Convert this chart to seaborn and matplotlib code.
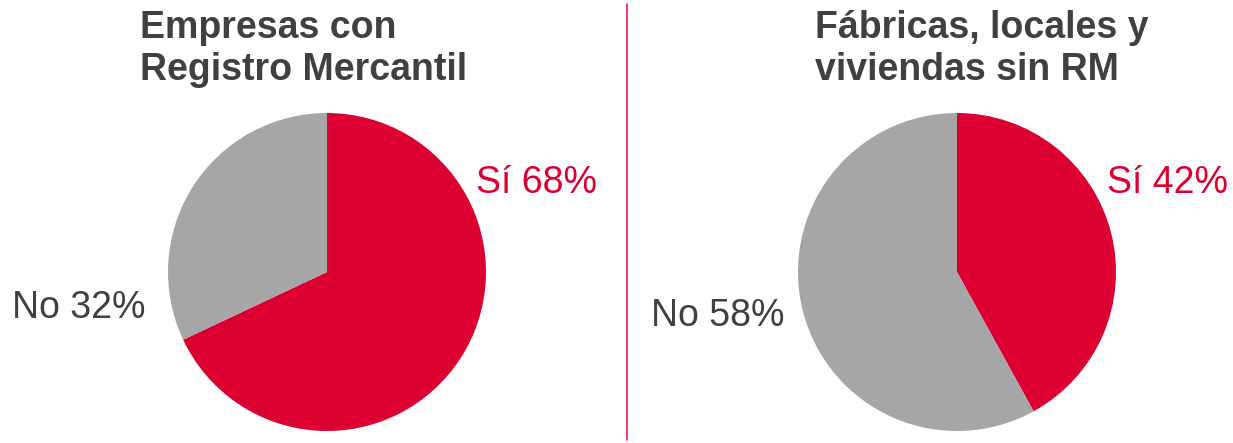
import matplotlib
matplotlib.use("Agg")
import matplotlib.pyplot as plt
import seaborn as sns
from matplotlib.lines import Line2D

sns.set_theme(style="white")
plt.rcParams["font.family"] = ["Liberation Sans", "DejaVu Sans"]

# Data
titles = ["Empresas con\nRegistro Mercantil", "Fábricas, locales y\nviviendas sin RM"]
categories = ["Sí", "No"]
share_si = [68, 42]
share_no = [32, 58]

RED = "#DC0032"
GREY = "#A6A6A6"
DARK = "#404040"

W, H = 1233, 443
fig = plt.figure(figsize=(W / 100, H / 100), dpi=100)
fig.patch.set_facecolor("white")


def px_axes(cx, cy, r):
    return fig.add_axes([(cx - r) / W, (H - cy - r) / H, 2 * r / W, 2 * r / H])


centers = [(327, 272), (957, 272)]
radius = 159
title_x = [140, 815]
si_label_pos = [(476, 193), (1107, 193)]
no_label_pos = [(12, 318), (651, 326)]

for i in range(2):
    ax = px_axes(*centers[i], radius)
    ax.pie([share_si[i], share_no[i]], colors=[RED, GREY], startangle=90,
           counterclock=False, radius=1, wedgeprops=dict(linewidth=0))
    ax.set_xlim(-1, 1)
    ax.set_ylim(-1, 1)
    ax.set_aspect("equal")
    ax.axis("off")

    line1, line2 = titles[i].split("\n")
    fig.text(title_x[i] / W, 1 - 38 / H, line1, fontsize=27,
             fontweight="bold", color=DARK, ha="left", va="baseline")
    fig.text(title_x[i] / W, 1 - 80 / H, line2, fontsize=27,
             fontweight="bold", color=DARK, ha="left", va="baseline")

    sx, sy = si_label_pos[i]
    fig.text(sx / W, 1 - sy / H, f"{categories[0]} {share_si[i]}%", fontsize=27,
             color=RED, ha="left", va="baseline")
    nx, ny = no_label_pos[i]
    fig.text(nx / W, 1 - ny / H, f"{categories[1]} {share_no[i]}%", fontsize=27,
             color=DARK, ha="left", va="baseline")

# Divider between the two pies
fig.add_artist(Line2D([627 / W, 627 / W], [1 - 4 / H, 1 - 440 / H],
                      transform=fig.transFigure, color="#E8194A", linewidth=1.2))

fig.savefig("out.png", dpi=100, facecolor="white")
